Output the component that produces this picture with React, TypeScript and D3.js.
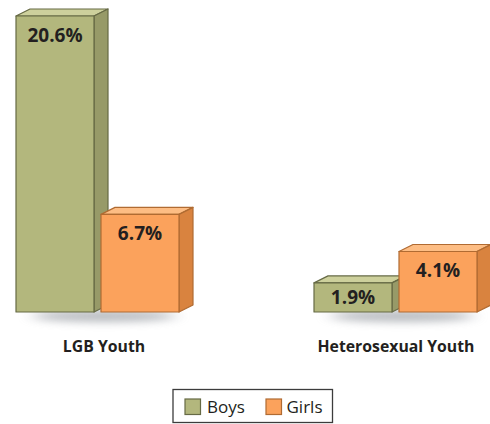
import React from 'react'
import * as d3 from 'd3'

const groups = ['LGB Youth', 'Heterosexual Youth']
const seriesNames = ['Boys', 'Girls']
const boysValues = [20.6, 1.9]
const girlsValues = [6.7, 4.1]

const width = 490
const height = 424
const baseY = 312
const barW = 78
const depthX = 14
const depthY = 7
const fontFamily = '"Open Sans", "Noto Sans", sans-serif'
const textColor = '#231f20'

const colors: Record<string, { front: string; top: string; side: string; stroke: string }> = {
  Boys: { front: '#b3b77d', top: '#cdd09c', side: '#979a68', stroke: '#666a45' },
  Girls: { front: '#fba25c', top: '#fdbd84', side: '#d9833f', stroke: '#b06b32' },
}

// group positions: one band per group, the second band starts at 314
const x0 = d3.scaleBand<string>().domain(groups).range([16, 612])
const x1 = d3.scaleBand<string>().domain(seriesNames).range([0, 170])
const labelX = d3.scalePoint<string>().domain(groups).range([104, 396])
const y = d3.scaleLinear().domain([0, 20.6]).range([310, 16])

function Bar({ x, value, name }: { x: number; value: number; name: string }) {
  const c = colors[name]
  const top = y(value)
  const r = x + barW
  const line = d3.line()
  const topFace = line([[x, top], [x + depthX, top - depthY], [r + depthX, top - depthY], [r, top]]) + 'Z'
  const sideFace = line([[r, top], [r + depthX, top - depthY], [r + depthX, baseY - depthY], [r, baseY]]) + 'Z'
  return (
    <g stroke={c.stroke} strokeWidth={1.2} strokeLinejoin="round">
      <path d={topFace} fill={c.top} />
      <path d={sideFace} fill={c.side} />
      <rect x={x} y={top} width={barW} height={baseY - top} fill={c.front} />
      <text
        x={x + barW / 2}
        y={top + (value < 2 ? 21 : 26)}
        textAnchor="middle"
        fontFamily={fontFamily}
        fontWeight={700}
        fontSize={19}
        fill={textColor}
        stroke="none"
      >
        {value.toFixed(1)}%
      </text>
    </g>
  )
}

export default function App() {
  return (
    <svg
      width={width}
      height={height}
      viewBox={`0 0 ${width} ${height}`}
      style={{ position: 'absolute', left: 0, top: 0, background: '#fff' }}
    >
      <defs>
        <filter id="shadowBlur" x="-30%" y="-150%" width="160%" height="400%">
          <feGaussianBlur stdDeviation="8 4" />
        </filter>
      </defs>

      {groups.map((g, i) => {
        const gx = x0(g) as number
        return (
          <g key={g}>
            {/* soft shadow under the bars */}
            <ellipse cx={gx + 88} cy={baseY + 4} rx={72} ry={6} fill="#8a8f96" opacity={0.6} filter="url(#shadowBlur)" />
            <Bar x={gx + (x1('Boys') as number)} value={boysValues[i]} name="Boys" />
            <Bar x={gx + (x1('Girls') as number)} value={girlsValues[i]} name="Girls" />
            <text
              x={labelX(g)}
              y={351.5}
              textAnchor="middle"
              fontFamily={fontFamily}
              fontWeight={700}
              fontSize={15.8}
              fill={textColor}
            >
              {g}
            </text>
          </g>
        )
      })}

      {/* legend */}
      <rect x={173} y={389.5} width={159.5} height={33} fill="#fff" stroke="#3c3c3c" strokeWidth={1.3} />
      {seriesNames.map((s, i) => {
        const lx = [185, 266][i]
        return (
          <g key={s}>
            <rect x={lx} y={399} width={15.5} height={15.5} fill={colors[s].front} stroke={colors[s].stroke} strokeWidth={1.2} />
            <text x={[207, 286.5][i]} y={412.5} fontFamily={fontFamily} fontSize={17} fill={textColor}>
              {s}
            </text>
          </g>
        )
      })}
    </svg>
  )
}
